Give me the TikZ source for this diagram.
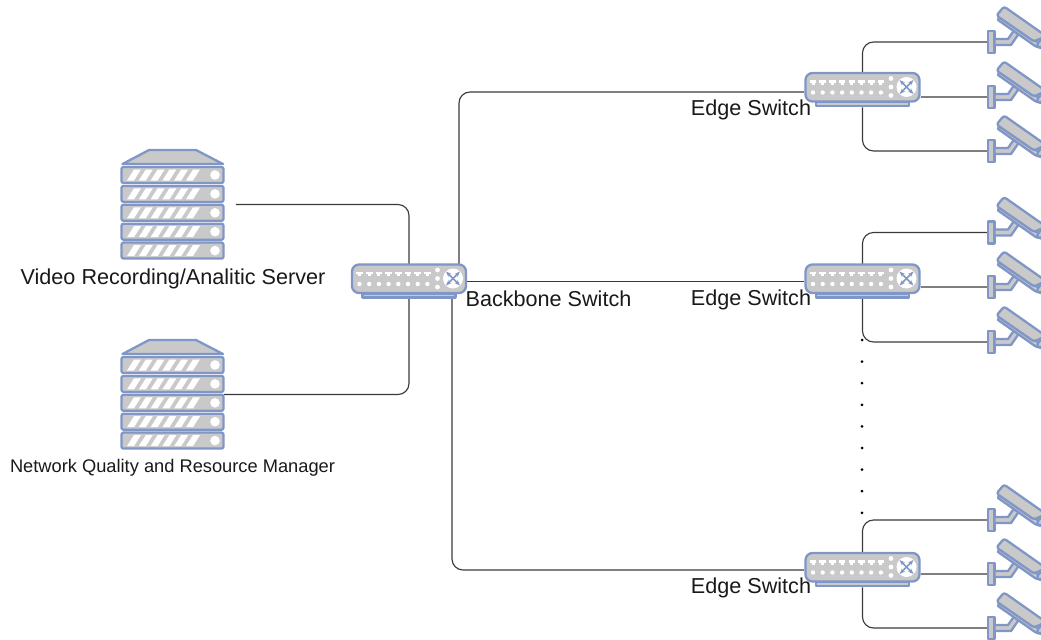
\documentclass[tikz,border=0pt]{standalone}
\usepackage{fontspec}
\setmainfont{Liberation Sans}
\usetikzlibrary{arrows.meta}
\definecolor{iconblue}{HTML}{7F96C6}
\definecolor{icongray}{HTML}{C9C9C9}
\definecolor{linkgray}{HTML}{3A3A3A}
\tikzset{
  link/.style={draw=linkgray,line width=0.65pt,rounded corners=0.22cm},
  icon/.style={draw=iconblue,fill=icongray,line width=1.3pt,line join=round},
  hole/.style={fill=white,draw=none},
  tag/.style={font=\fontsize{12.3}{14}\selectfont,text=black!90,inner sep=0pt},
  smalltag/.style={font=\fontsize{10.4}{12}\selectfont,text=black!90,inner sep=0pt},
  switchbox/.style={minimum width=2.32cm,minimum height=0.68cm,inner sep=0pt},
  serverbox/.style={minimum width=2.04cm,minimum height=2.18cm,inner sep=0pt},
  switchicon/.pic={
    \path[icon] (-46.5,12) rectangle (46.5,16);
    \path[icon,rounded corners=0.14cm] (-57,-17) rectangle (57,11.5);
    \foreach \k in {0,...,7}{
      \fill[white] (-49.5+9.7*\k-3.3,-10) rectangle (-49.5+9.7*\k+3.3,-7.5);
      \fill[white] (-49.5+9.7*\k-1.5,-7.5) rectangle (-49.5+9.7*\k+1.5,-5.5);
      \path[hole] (-49.5+9.7*\k,2.5) circle [radius=2.2];
    }
    \foreach \k in {-11.5,-3,5.5}{\path[hole] (28.5,\k) circle [radius=2.4];}
    \path[hole] (44,-3) circle [radius=10];
    \draw[iconblue,line width=0.9pt,{Stealth[length=3.2pt]}-{Stealth[length=3.2pt]}] (37,-10) -- (51,4);
    \draw[iconblue,line width=0.9pt,{Stealth[length=3.2pt]}-{Stealth[length=3.2pt]}] (51,-10) -- (37,4);
  },
  servericon/.pic={
    \path[icon] (-50,-40.5) -- (-23.5,-54.5) -- (23.5,-54.5) -- (50.5,-40.5) -- cycle;
    \foreach \k in {0,...,4}{
      \begin{scope}[yshift=-\k*0.378cm]
        \path[icon,rounded corners=0.04cm] (-51,-37.5) rectangle (51,-21.5);
        \foreach \j in {0,...,5}{
          \path[hole] (-45.5+11.8*\j,-24) -- (-38.5+11.8*\j,-35) -- (-31.5+11.8*\j,-35) -- (-38.5+11.8*\j,-24) -- cycle;
        }
        \path[hole] (42.5,-29.5) circle [radius=4.8];
      \end{scope}
    }
  },
  cameraicon/.pic={
    \path[icon] (0,-11) rectangle (6.5,11);
    \path[icon] (6.5,-3) -- (20,-3) -- (27,-13) -- (32,-10) -- (23,3) -- (6.5,3) -- cycle;
    \path[icon] (10,-22) -- (47,4) -- (53,6) -- (53,2) -- (46,-2) -- (11,-25) -- cycle;
    \path[icon,rounded corners=0.05cm] (16,-35.5) -- (8.5,-26.5) -- (46,-0.5) -- (58,-6) -- cycle;
    \path[icon] (50,1) -- (56,-6) -- (58,5) -- (49,5) -- cycle;
  }
}

\begin{document}
\begin{tikzpicture}[x=0.02cm,y=-0.02cm]
  \useasboundingbox (0,0) rectangle (1041,639);
  % icons
  \node[serverbox] (serverA) at (172.5,204.5) {};
  \node[serverbox] (serverB) at (172.5,394.5) {};
  \node[switchbox] (backbone) at (409,281.5) {};
  \node[switchbox] (edgeA) at (862.5,90) {};
  \node[switchbox] (edgeB) at (862.5,281.5) {};
  \node[switchbox] (edgeC) at (862.5,570) {};
  \coordinate (camA1) at (988,42);
  \coordinate (camA2) at (988,97);
  \coordinate (camA3) at (988,151);
  \coordinate (camB1) at (988,232.5);
  \coordinate (camB2) at (988,287);
  \coordinate (camB3) at (988,342);
  \coordinate (camC1) at (988,520);
  \coordinate (camC2) at (988,574);
  \coordinate (camC3) at (988,628);
  % links
  \draw[link] ([xshift=0.24cm]serverA.east) -| (backbone.north);
  \draw[link] (serverB.east) -| (backbone.south);
  \draw[link] ([xshift=1cm]backbone.north) |- ([yshift=-0.04cm]edgeA.west);
  \draw[link] (backbone.east) -- (edgeB.west);
  \draw[link] ([xshift=0.86cm]backbone.south) |- (edgeC.west);
  \draw[link] (edgeA.north) |- (camA1);
  \draw[link] ([yshift=-0.14cm]edgeA.east) -- (camA2);
  \draw[link] (edgeA.south) |- (camA3);
  \draw[link] (edgeB.north) |- (camB1);
  \draw[link] ([yshift=-0.11cm]edgeB.east) -- (camB2);
  \draw[link] (edgeB.south) |- (camB3);
  \draw[link] (edgeC.north) |- (camC1);
  \draw[link] ([yshift=-0.08cm]edgeC.east) -- (camC2);
  \draw[link] (edgeC.south) |- (camC3);
  \foreach \n in {serverA,serverB}{\pic at (\n) {servericon};}
  \foreach \n in {backbone,edgeA,edgeB,edgeC}{\pic at (\n) {switchicon};}
  \foreach \n in {camA1,camA2,camA3,camB1,camB2,camB3,camC1,camC2,camC3}{\pic at (\n) {cameraicon};}
  % dots between the edge switches
  \foreach \k in {0,...,8}{\fill (862,340+21.6*\k) circle [radius=1.5];}
  % labels
  \node[tag] (serverAtag) at (173,279) {Video Recording/Analitic Server};
  \node[smalltag] (serverBtag) at (172.5,467.5) {Network Quality and Resource Manager};
  \node[tag] (backbonetag) at (548.5,299) {Backbone Switch};
  \node[tag] (edgeAtag) at (751,109.5) {Edge Switch};
  \node[tag] (edgeBtag) at (751,299.5) {Edge Switch};
  \node[tag] (edgeCtag) at (751,587.5) {Edge Switch};
\end{tikzpicture}
\end{document}
